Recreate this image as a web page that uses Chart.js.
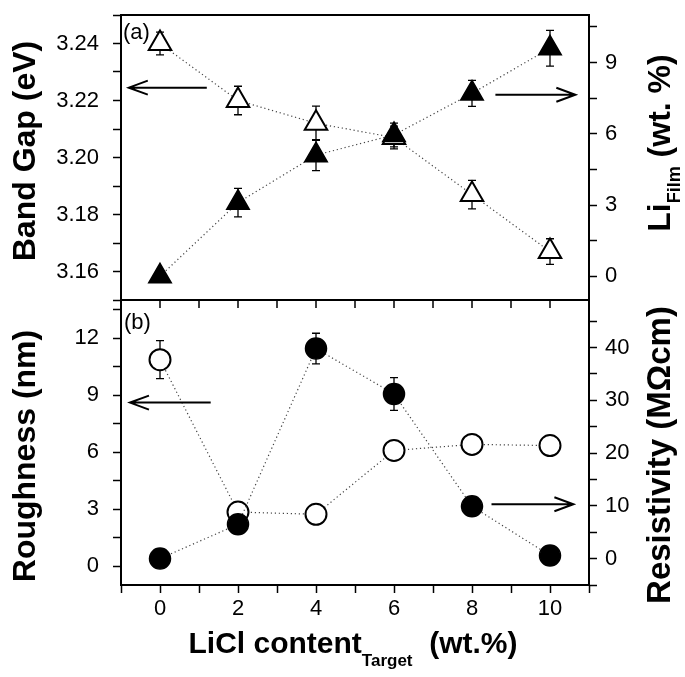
<!DOCTYPE html>
<html>
<head>
<meta charset="utf-8">
<script src="https://cdn.jsdelivr.net/npm/chart.js@4.4.0/dist/chart.umd.min.js"></script>
<style>
    html, body { margin: 0; padding: 0; background: #fff; }
    #chart { display: block; }
</style>
</head>
<body>
<canvas id="chart" width="685" height="677"></canvas>
<script>
// LiCl content in target (wt.%)
var xValues = [0, 2, 4, 6, 8, 10];

// panel (a)
var bandGap = [3.240, 3.220, 3.212, 3.207, 3.187, 3.167];
var bandGapErr = [0.004, 0.005, 0.006, 0.004, 0.005, 0.0045];
var liFilm = [0.0, 3.1, 5.1, 5.95, 7.7, 9.6];
var liFilmErr = [0.2, 0.6, 0.65, 0.5, 0.55, 0.75];

// panel (b)
var roughness = [10.86, 2.84, 2.72, 6.08, 6.4, 6.34];
var roughnessErr = [1.0, 0.4, 0.3, 0.3, 0.3, 0.3];
var resistivity = [0.0, 6.5, 39.8, 31.2, 9.9, 0.6];
var resistivityErr = [0.8, 1.0, 2.9, 3.1, 0.8, 0.8];

// tick labels
var xTicks = [0, 2, 4, 6, 8, 10];
var bandGapTicks = [3.16, 3.18, 3.20, 3.22, 3.24];
var liTicks = [0, 3, 6, 9];
var roughTicks = [0, 3, 6, 9, 12];
var resTicks = [0, 10, 20, 30, 40];

// arrows pointing to the axis of each series (axis, y value, from x, to x)
var arrowAxes = ['yBG', 'yLi', 'yR', 'yRes'];
var arrowY = [3.2245, 7.64, 8.6, 10.3];
var arrowFrom = [1.2, 8.6, 1.3, 8.5];
var arrowTo = [-0.8, 10.65, -0.77, 10.6];

var FONT = "'Liberation Sans', Arial, sans-serif";

function toPoints(values) {
    return values.map(function (v, i) { return { x: xValues[i], y: v }; });
}

// majors plus the half-step minors between (and just outside) them
function withMinors(majors, min, max) {
    var step = majors[1] - majors[0];
    var all = [];
    for (var v = majors[0] - step / 2; v <= majors[majors.length - 1] + step / 2 + 1e-9; v += step / 2) {
        var r = Math.round(v * 1000) / 1000;
        if (r >= min - 1e-9 && r <= max + 1e-9) all.push(r);
    }
    return all;
}

function yAxis(position, stack, min, max, majors, digits) {
    return {
        type: 'linear',
        position: position,
        stack: stack,
        stackWeight: 1,
        min: min,
        max: max,
        afterBuildTicks: function (axis) {
            axis.ticks = withMinors(majors, min, max).map(function (v) { return { value: v }; });
        },
        afterFit: function (axis) {
            axis.width = position === 'left' ? 121 : 96;
            // no extra room for half labels, the frame sits at fixed pixels
            axis.paddingTop = 0;
            axis.paddingBottom = 0;
        },
        ticks: {
            autoSkip: false,
            color: '#000',
            padding: position === 'left' ? 14 : 8,
            font: { family: FONT, size: 22 },
            callback: function (value) {
                var hit = majors.some(function (m) { return Math.abs(m - value) < 1e-6; });
                return hit ? value.toFixed(digits) : '';
            }
        },
        grid: { drawOnChartArea: false, drawTicks: true, tickLength: 8, tickWidth: 1.5, tickColor: '#000' },
        border: { display: true, color: '#000', width: 2 }
    };
}

function drawErrorBars(ctx, chart, values, errors, axisId) {
    var xs = chart.scales.x;
    var ys = chart.scales[axisId];
    ctx.save();
    ctx.strokeStyle = '#000';
    ctx.lineWidth = 1.3;
    for (var i = 0; i < values.length; i++) {
        var px = xs.getPixelForValue(xValues[i]);
        var top = ys.getPixelForValue(values[i] + errors[i]);
        var bot = ys.getPixelForValue(values[i] - errors[i]);
        ctx.beginPath();
        ctx.moveTo(px, top); ctx.lineTo(px, bot);
        ctx.moveTo(px - 4, top); ctx.lineTo(px + 4, top);
        ctx.moveTo(px - 4, bot); ctx.lineTo(px + 4, bot);
        ctx.stroke();
    }
    ctx.restore();
}

function drawArrow(ctx, x1, y, x2) {
    var dir = x2 > x1 ? 1 : -1;
    ctx.beginPath();
    ctx.moveTo(x1, y); ctx.lineTo(x2, y);
    ctx.moveTo(x2 - dir * 19, y - 7); ctx.lineTo(x2, y); ctx.lineTo(x2 - dir * 19, y + 7);
    ctx.stroke();
}

// text made of parts with their own font and baseline shift, centred on (x, y)
function drawRich(ctx, parts, x, y, rotation) {
    var total = 0;
    parts.forEach(function (p) { ctx.font = p.font; p.w = ctx.measureText(p.text).width; total += p.w; });
    ctx.save();
    ctx.translate(x, y);
    ctx.rotate(rotation);
    ctx.textBaseline = 'alphabetic';
    ctx.textAlign = 'left';
    ctx.fillStyle = '#000';
    var cx = -total / 2;
    parts.forEach(function (p) {
        ctx.font = p.font;
        ctx.fillText(p.text, cx, p.dy);
        cx += p.w;
    });
    ctx.restore();
}

var panelDecor = {
    id: 'panelDecor',
    beforeDatasetsDraw: function (chart) {
        var ctx = chart.ctx;
        drawErrorBars(ctx, chart, bandGap, bandGapErr, 'yBG');
        drawErrorBars(ctx, chart, liFilm, liFilmErr, 'yLi');
        drawErrorBars(ctx, chart, roughness, roughnessErr, 'yR');
        drawErrorBars(ctx, chart, resistivity, resistivityErr, 'yRes');
    },
    afterDraw: function (chart) {
        var ctx = chart.ctx;
        var area = chart.chartArea;
        var xs = chart.scales.x;
        var top = chart.scales.yBG;
        var bottom = chart.scales.yR;

        ctx.save();
        ctx.strokeStyle = '#000';
        ctx.lineWidth = 2;
        // top frame and the divider between the panels
        ctx.beginPath();
        ctx.moveTo(area.left - 1, top.top); ctx.lineTo(area.right + 1, top.top);
        ctx.moveTo(area.left - 1, top.bottom); ctx.lineTo(area.right + 1, top.bottom);
        ctx.stroke();

        // x ticks mirrored on top edge of panel (b)
        ctx.lineWidth = 1.5;
        ctx.beginPath();
        xs.ticks.forEach(function (t) {
            var px = xs.getPixelForValue(t.value);
            ctx.moveTo(px, bottom.top); ctx.lineTo(px, bottom.top + 8);
        });
        ctx.stroke();

        // arrows
        ctx.lineWidth = 2;
        for (var i = 0; i < arrowAxes.length; i++) {
            var ys = chart.scales[arrowAxes[i]];
            drawArrow(ctx, xs.getPixelForValue(arrowFrom[i]), ys.getPixelForValue(arrowY[i]), xs.getPixelForValue(arrowTo[i]));
        }

        // panel labels
        ctx.fillStyle = '#000';
        ctx.font = '22px ' + FONT;
        ctx.textBaseline = 'middle';
        ctx.textAlign = 'left';
        ctx.fillText('(a)', area.left + 2, top.top + 18);
        ctx.fillText('(b)', area.left + 3, bottom.top + 23);
        ctx.restore();

        // axis titles
        var big = 'bold 32px ' + FONT;
        var small = 'bold 18px ' + FONT;
        drawRich(ctx, [{ text: 'Band Gap (eV)', font: big, dy: 0 }], 35, 151, -Math.PI / 2);
        drawRich(ctx, [{ text: 'Roughness (nm)', font: big, dy: 0 }], 35, 456, -Math.PI / 2);
        drawRich(ctx, [
            { text: 'Li', font: big, dy: 0 },
            { text: 'Film', font: small, dy: 10 },
            { text: ' (wt. %)', font: big, dy: 0 }
        ], 670, 143, -Math.PI / 2);
        drawRich(ctx, [{ text: 'Resistivity (M\u03A9cm)', font: 'bold 33px ' + FONT, dy: 0 }], 670, 455, -Math.PI / 2);
        drawRich(ctx, [
            { text: 'LiCl content', font: 'bold 30px ' + FONT, dy: 0 },
            { text: 'Target', font: 'bold 17px ' + FONT, dy: 13 },
            { text: '  (wt.%)', font: 'bold 30px ' + FONT, dy: 0 }
        ], 353, 653, 0);
    }
};

var dotted = { borderColor: '#444', borderWidth: 1.2, borderDash: [1.2, 2.8], tension: 0, showLine: true };

new Chart(document.getElementById('chart'), {
    type: 'scatter',
    data: {
        datasets: [
            Object.assign({
                label: 'Li film', data: toPoints(liFilm), yAxisID: 'yLi', order: 1,
                pointStyle: 'triangle', pointRadius: 13, pointBackgroundColor: '#000',
                pointBorderColor: '#000', pointBorderWidth: 1.5
            }, dotted),
            Object.assign({
                label: 'Band gap', data: toPoints(bandGap), yAxisID: 'yBG', order: 2,
                pointStyle: 'triangle', pointRadius: 13, pointBackgroundColor: '#fff',
                pointBorderColor: '#000', pointBorderWidth: 2
            }, dotted),
            Object.assign({
                label: 'Resistivity', data: toPoints(resistivity), yAxisID: 'yRes', order: 1,
                pointStyle: 'circle', pointRadius: 10.5, pointBackgroundColor: '#000',
                pointBorderColor: '#000', pointBorderWidth: 1.5
            }, dotted),
            Object.assign({
                label: 'Roughness', data: toPoints(roughness), yAxisID: 'yR', order: 2,
                pointStyle: 'circle', pointRadius: 10.5, pointBackgroundColor: '#fff',
                pointBorderColor: '#000', pointBorderWidth: 2
            }, dotted)
        ]
    },
    options: {
        responsive: false,
        animation: false,
        layout: { padding: { top: 14, left: 0, right: 0, bottom: 0 } },
        plugins: { legend: { display: false }, tooltip: { enabled: false } },
        scales: {
            x: {
                type: 'linear',
                position: 'bottom',
                min: -1,
                max: 11,
                afterBuildTicks: function (axis) {
                    var t = [];
                    for (var v = -1; v <= 11; v++) t.push({ value: v });
                    axis.ticks = t;
                },
                afterFit: function (axis) {
                    axis.height = 92;
                    axis.paddingLeft = 0;
                    axis.paddingRight = 0;
                },
                ticks: {
                    autoSkip: false,
                    maxRotation: 0,
                    color: '#000',
                    padding: 3,
                    font: { family: FONT, size: 22 },
                    callback: function (value) { return xTicks.indexOf(value) >= 0 ? String(value) : ''; }
                },
                grid: { drawOnChartArea: false, drawTicks: true, tickLength: 8, tickWidth: 1.5, tickColor: '#000' },
                border: { display: true, color: '#000', width: 2 }
            },
            // left boxes are laid out in reverse, so the lower panel comes first
            yR: yAxis('left', 'left', -1, 14, roughTicks, 0),
            yBG: yAxis('left', 'left', 3.15, 3.25, bandGapTicks, 2),
            yLi: yAxis('right', 'right', -1, 11, liTicks, 0),
            yRes: yAxis('right', 'right', -5, 49, resTicks, 0)
        }
    },
    plugins: [panelDecor]
});
</script>
</body>
</html>
